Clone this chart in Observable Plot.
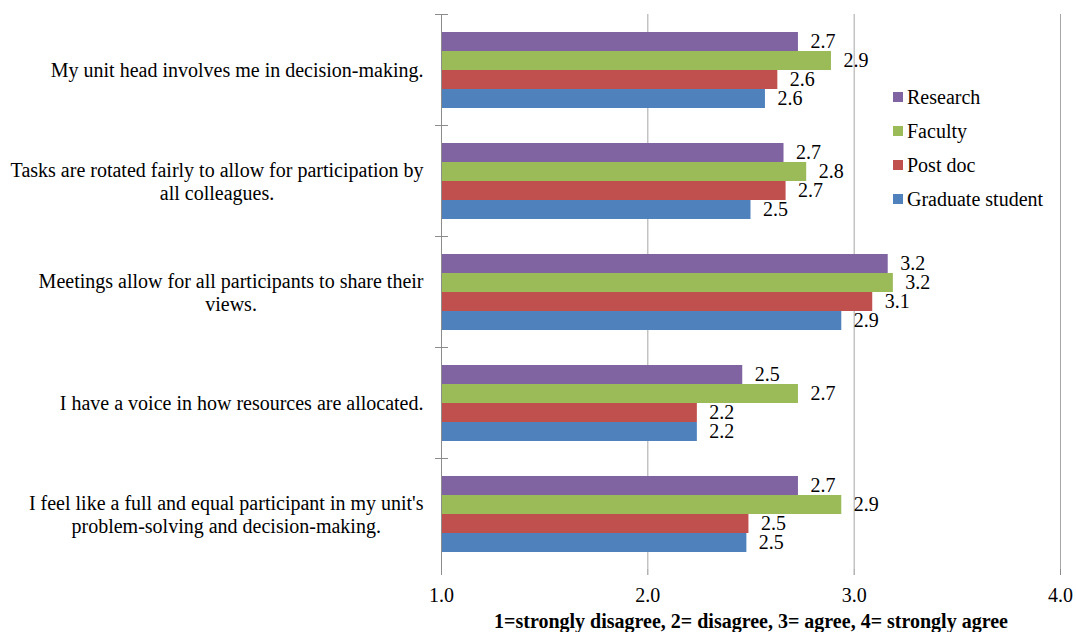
<!DOCTYPE html>
<html><head><meta charset="utf-8">
<script src="https://cdn.jsdelivr.net/npm/d3@7"></script>
<script src="https://cdn.jsdelivr.net/npm/@observablehq/plot@0.6"></script>
<style>
body{margin:0;background:#fff;}
#wrap{position:relative;width:1076px;height:632px;font-family:"Liberation Serif","Times New Roman",serif;}
#legend{position:absolute;left:893px;top:80px;font-size:20px;color:#000;}
.item{display:flex;align-items:center;height:34px;white-space:nowrap;}
.sw{width:10px;height:10px;margin-right:4px;flex:none;}
</style></head><body><div id="wrap"></div>
<script>
const categories = [
  "My unit head involves me in decision-making.",
  "Tasks are rotated fairly to allow for participation by\nall colleagues.",
  "Meetings allow for all participants to share their\nviews.",
  "I have a voice in how resources are allocated.",
  "I feel like a full and equal participant in my unit's\nproblem-solving and decision-making."
];
const series = ["Research", "Faculty", "Post doc", "Graduate student"];
const colors = ["#8064A2", "#9BBB59", "#C0504D", "#4F81BD"];
const research    = [2.73, 2.66, 3.165, 2.46, 2.73];
const faculty     = [2.89, 2.77, 3.19, 2.73, 2.94];
const postdoc     = [2.63, 2.67, 3.09, 2.24, 2.49];
const gradStudent = [2.57, 2.50, 2.94, 2.24, 2.48];
const xTicks = [1, 2, 3, 4];
const xTitle = "1=strongly disagree, 2= disagree, 3= agree, 4= strongly agree";

const valuesBySeries = [research, faculty, postdoc, gradStudent];
const rows = categories.flatMap((c, i) => series.map((s, j) => ({category: c, series: s, value: valuesBySeries[j][i]})));
const fmt = d3.format(".1f");
const axisGray = "#8c8c8c";

const chart = Plot.plot({
  width: 1076, height: 632,
  marginLeft: 441, marginRight: 16, marginTop: 13, marginBottom: 63,
  style: {fontFamily: "'Liberation Serif','Times New Roman',serif", fontSize: "20px", color: "#000", background: "#fff", overflow: "visible"},
  x: {domain: [1, 4]},
  y: {domain: series, axis: null, paddingInner: 0, paddingOuter: 0.78},
  fy: {domain: categories, padding: 0},
  color: {domain: series, range: colors},
  marks: [
    Plot.gridX(xTicks.slice(1), {stroke: "#a6a6a6", strokeOpacity: 1}),
    Plot.barX(rows, {fy: "category", y: "series", x1: () => 1, x2: "value", fill: "series"}),
    Plot.text(rows, {fy: "category", y: "series", x: "value", text: d => fmt(d.value), textAnchor: "start", dx: 12, fill: "#000"}),
    Plot.ruleX([1], {stroke: axisGray}),
    Plot.frame({anchor: "top", insetLeft: -6, insetRight: 613, stroke: axisGray}),
    Plot.axisX({ticks: xTicks, tickFormat: fmt, tickSize: 6, tickPadding: 12, stroke: axisGray, fill: "#000", line: true,
      label: xTitle, labelAnchor: "center", labelArrow: "none", labelOffset: 58}),
    Plot.axisFy({anchor: "left", tickSize: 0, tickPadding: 18, label: null, lineHeight: 1.15, fill: "#000"})
  ]
});

const wrap = document.getElementById("wrap");
wrap.appendChild(chart);

// center the lines of wrapped category labels, keeping the block right-aligned
d3.select(chart).selectAll('g[aria-label="fy-axis tick label"] text').each(function () {
  const tspans = Array.from(this.querySelectorAll("tspan"));
  if (tspans.length < 2) return;
  const W = d3.max(tspans, t => t.getComputedTextLength());
  this.setAttribute("text-anchor", "middle");
  tspans.forEach(t => t.setAttribute("x", -W / 2));
});
d3.select(chart).selectAll('g[aria-label="x-axis label"] text').attr("font-weight", "bold");

// legend
const legend = d3.select(wrap).append("div").attr("id", "legend");
series.forEach((s, i) => {
  const it = legend.append("div").attr("class", "item");
  it.append("span").attr("class", "sw").style("background", colors[i]);
  it.append("span").text(s);
});
</script>
</body></html>
